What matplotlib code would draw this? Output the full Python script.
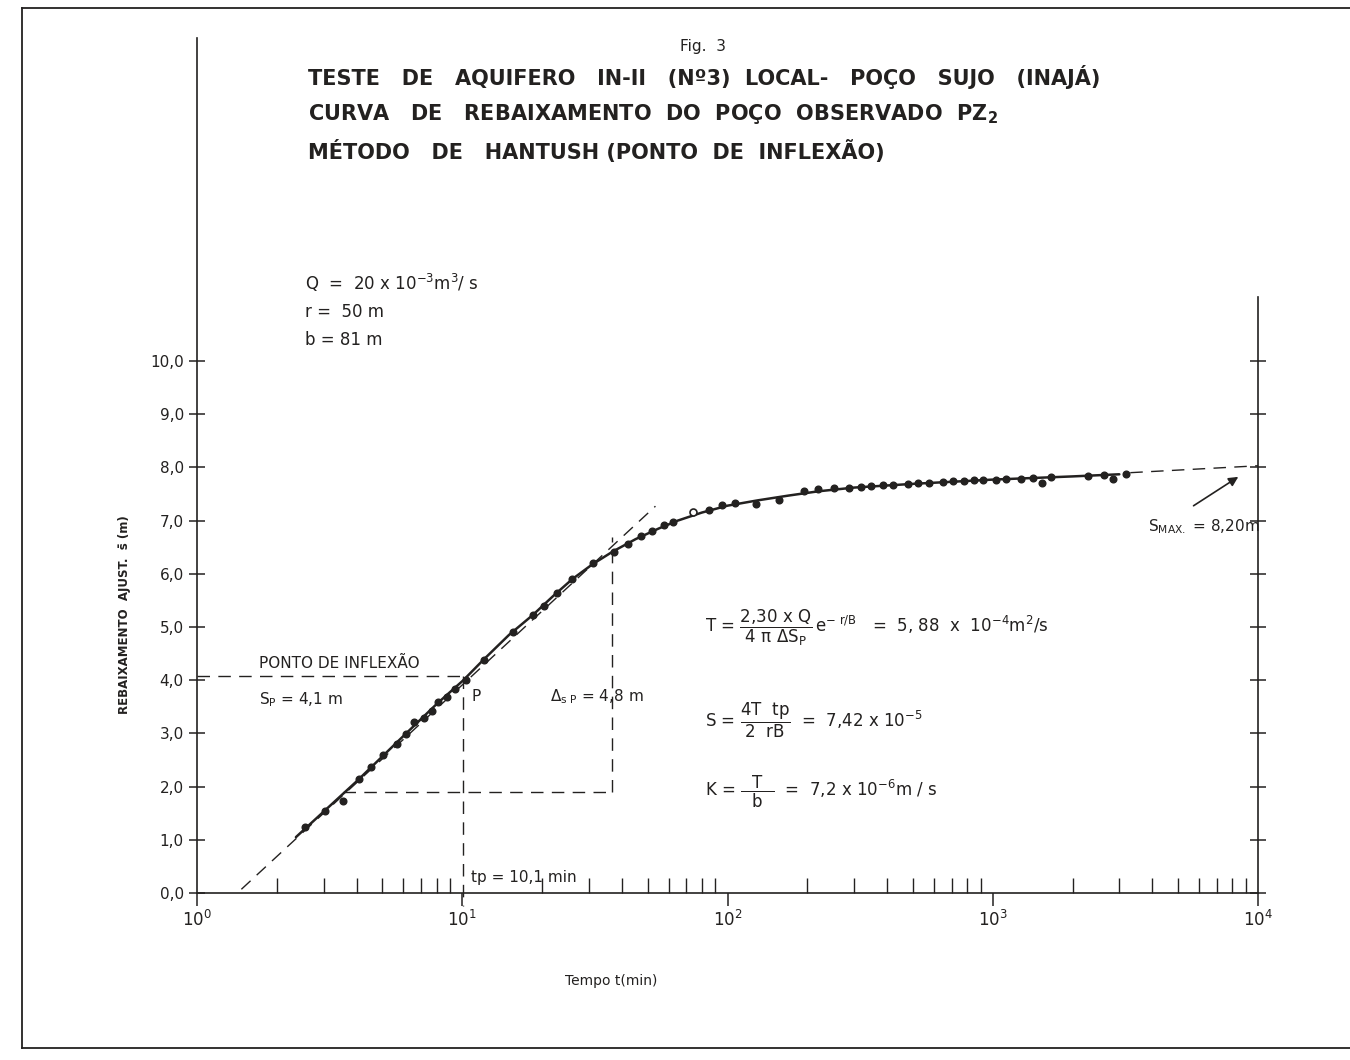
import numpy as np
import matplotlib.pyplot as plt
from matplotlib.lines import Line2D
from matplotlib.ticker import FixedLocator, LogLocator, NullFormatter

plt.rcParams.update({
    "font.family": "DejaVu Sans",
    "mathtext.fontset": "dejavusans",
    "mathtext.default": "regular",
})

INK = "#232120"

# observed drawdown (time in min, drawdown in m)
t_obs = [2.56, 3.04, 3.56, 4.09, 4.54, 5.03, 5.69, 6.15, 6.59, 7.19, 7.70, 8.11,
         8.78, 9.41, 10.35, 12.1, 15.5, 18.5, 20.4, 22.8, 26.0, 31.2, 37.2, 42.0,
         47.3, 52.1, 57.8, 62.5, 84.8, 95.7, 107, 128, 157, 194, 219, 253, 286,
         318, 349, 385, 420, 478, 521, 573, 648, 706, 778, 848, 916, 1026, 1120,
         1276, 1416, 1531, 1656, 2281, 2624, 2836, 3177]
s_obs = [1.24, 1.54, 1.73, 2.14, 2.37, 2.59, 2.80, 2.99, 3.21, 3.29, 3.42, 3.59,
         3.68, 3.83, 4.00, 4.38, 4.91, 5.23, 5.39, 5.64, 5.90, 6.20, 6.41, 6.56,
         6.71, 6.80, 6.92, 6.97, 7.20, 7.29, 7.33, 7.31, 7.39, 7.56, 7.59, 7.61,
         7.62, 7.63, 7.65, 7.66, 7.67, 7.69, 7.70, 7.71, 7.73, 7.74, 7.74, 7.76,
         7.76, 7.77, 7.78, 7.79, 7.80, 7.71, 7.81, 7.84, 7.85, 7.78, 7.88]
t_open = [73.8]
s_open = [7.16]

# hand-drawn fitted curve
t_fit = [2.36, 4.0, 6.0, 8.0, 10.1, 12, 15, 18.5, 22, 26, 31, 37, 45, 55, 65, 80,
         100, 130, 170, 220, 300, 500, 1000, 2000, 3000]
s_fit = [1.05, 2.10, 2.95, 3.55, 4.00, 4.38, 4.85, 5.23, 5.58, 5.90, 6.18, 6.42,
         6.65, 6.85, 7.00, 7.15, 7.28, 7.38, 7.47, 7.55, 7.62, 7.69, 7.77, 7.83, 7.87]

# straight line through the inflexion point
t_tan = [1.47, 53.5]
s_tan = [0.07, 7.27]
# extension of the plateau towards s max
t_ext = [3300, 10000]
s_ext = [7.90, 8.03]

tp, sp = 10.1, 4.07
t_delta = 36.8
s_low, s_high = 1.90, 6.70
t_low_start = 3.56

y_ticks = [0, 1, 2, 3, 4, 5, 6, 7, 8, 9, 10]
y_labels = ["0,0", "1,0", "2,0", "3,0", "4,0", "5,0", "6,0", "7,0", "8,0", "9,0", "10,0"]
x_ticks = [1, 10, 100, 1000, 10000]
x_labels = [r"$10^{0}$", r"$10^{1}$", r"$10^{2}$", r"$10^{3}$", r"$10^{4}$"]

title_lines = [
    "TESTE   DE   AQUIFERO   IN-II   (Nº3)  LOCAL-   POÇO   SUJO   (INAJÁ)",
    "CURVA   DE   REBAIXAMENTO  DO  POÇO  OBSERVADO  PZ$_2$",
    "MÉTODO   DE   HANTUSH (PONTO  DE  INFLEXÃO)",
]
title_y = [77, 114, 152]

fig = plt.figure(figsize=(13.5, 10.6), dpi=100)
ax = fig.add_axes([197 / 1350, 1 - 893 / 1060, 1061 / 1350, 855 / 1060])
ax.set_xscale("log")
ax.set_xlim(1, 1e4)
ax.set_ylim(0, 16.07)

dash = (0, (9, 6))
ax.plot(t_tan, s_tan, color=INK, lw=1.0, ls=dash)
ax.plot(t_ext, s_ext, color=INK, lw=1.0, ls=dash)
ax.plot(t_fit, s_fit, color=INK, lw=1.8, solid_capstyle="round")
ax.plot(t_obs, s_obs, "o", color=INK, ms=4.8)
ax.plot(t_open, s_open, "o", mfc="white", mec=INK, mew=1.2, ms=5)

# construction lines
ax.plot([1, tp], [sp, sp], color=INK, lw=1.0, ls=dash, clip_on=False)
ax.plot([tp, tp], [sp, -0.25], color=INK, lw=1.0, ls=dash, clip_on=False)
ax.plot([t_low_start, t_delta], [s_low, s_low], color=INK, lw=1.0, ls=dash)
ax.plot([t_delta, t_delta], [s_low, s_high], color=INK, lw=1.0, ls=dash)

# axes styling
ax.spines["top"].set_visible(False)
ax.spines["right"].set_bounds(0, 11.2)
for s in ("left", "right", "bottom"):
    ax.spines[s].set_color(INK)
    ax.spines[s].set_linewidth(1.2)

ax.yaxis.set_major_locator(FixedLocator(y_ticks))
ax.set_yticklabels(y_labels, fontsize=11, color=INK)
ax.tick_params(axis="y", direction="inout", length=11, width=1.1, color=INK,
               right=True, pad=4)
ax.set_xticks(x_ticks)
ax.set_xticklabels(x_labels, fontsize=12, color=INK)
ax.xaxis.set_minor_locator(LogLocator(base=10, subs=np.arange(2, 10)))
ax.xaxis.set_minor_formatter(NullFormatter())
ax.tick_params(axis="x", which="major", direction="out", length=9, width=1.1,
               color=INK, pad=3)
ax.tick_params(axis="x", which="minor", direction="in", length=11, width=1.0,
               color=INK)

ax.set_xlabel("Tempo t(min)", fontsize=10, color=INK)
ax.xaxis.set_label_coords(0.39, -0.095)
ax.set_ylabel("REBAIXAMENTO  AJUST.  s\u0304 (m)", fontsize=8.5, fontweight="bold",
              color=INK)
ax.yaxis.set_label_coords(-0.062, 0.325)

# titles
fig.text(680 / 1350, 1 - 47 / 1060, "Fig.  3", fontsize=11, color=INK, va="center")
for line, yy in zip(title_lines, title_y):
    fig.text(308 / 1350, 1 - yy / 1060, line, fontsize=15, fontweight="bold",
             color=INK, va="center")

# parameters
par_kw = dict(fontsize=12, color=INK, va="center")
fig.text(305 / 1350, 1 - 283 / 1060, r"Q  =  20 x 10$^{-3}$m$^3$/ s", **par_kw)
fig.text(305 / 1350, 1 - 312 / 1060, "r =  50 m", **par_kw)
fig.text(305 / 1350, 1 - 340 / 1060, "b = 81 m", **par_kw)

# results
res_kw = dict(fontsize=12, color=INK, va="center")
fig.text(705 / 1350, 1 - 628 / 1060,
         r"T = $\dfrac{2{,}30\ x\ Q}{4\ \pi\ \Delta S_P}\,e^{-\ r/B}$   =  5, 88  x  10$^{-4}$m$^2$/s",
         **res_kw)
fig.text(705 / 1350, 1 - 720 / 1060,
         r"S = $\dfrac{4T\ \ tp}{2\ \ r B}$  =  7,42 x 10$^{-5}$", **res_kw)
fig.text(705 / 1350, 1 - 792 / 1060,
         r"K = $\dfrac{\ \ T\ \ }{b}$  =  7,2 x 10$^{-6}$m / s", **res_kw)

# annotations on the plot
ax.text(1.72, 4.22, "PONTO DE INFLEXÃO", fontsize=11, color=INK)
ax.text(1.72, 3.55, "S$_P$ = 4,1 m", fontsize=11, color=INK)
ax.text(10.8, 3.6, "P", fontsize=11, color=INK)
ax.text(21.5, 3.6, r"$\Delta_{s\ P}$ = 4,8 m", fontsize=11, color=INK)
ax.text(10.8, 0.2, "tp = 10,1 min", fontsize=11, color=INK)
ax.text(3850, 6.8, "S$_{MAX.}$ = 8,20m", fontsize=11, color=INK)
ax.annotate("", xy=(8600, 7.85), xytext=(5600, 7.25),
            arrowprops=dict(arrowstyle="-|>", color=INK, lw=1.2,
                            mutation_scale=14))

# page frame of the scanned sheet
for xs, ys in (([22, 1350], [8, 8]), ([22, 22], [8, 1048]), ([22, 1350], [1048, 1048])):
    fig.add_artist(Line2D([x / 1350 for x in xs], [1 - y / 1060 for y in ys],
                          color=INK, lw=1.3))

fig.savefig("out.png", dpi=100, facecolor="white")
